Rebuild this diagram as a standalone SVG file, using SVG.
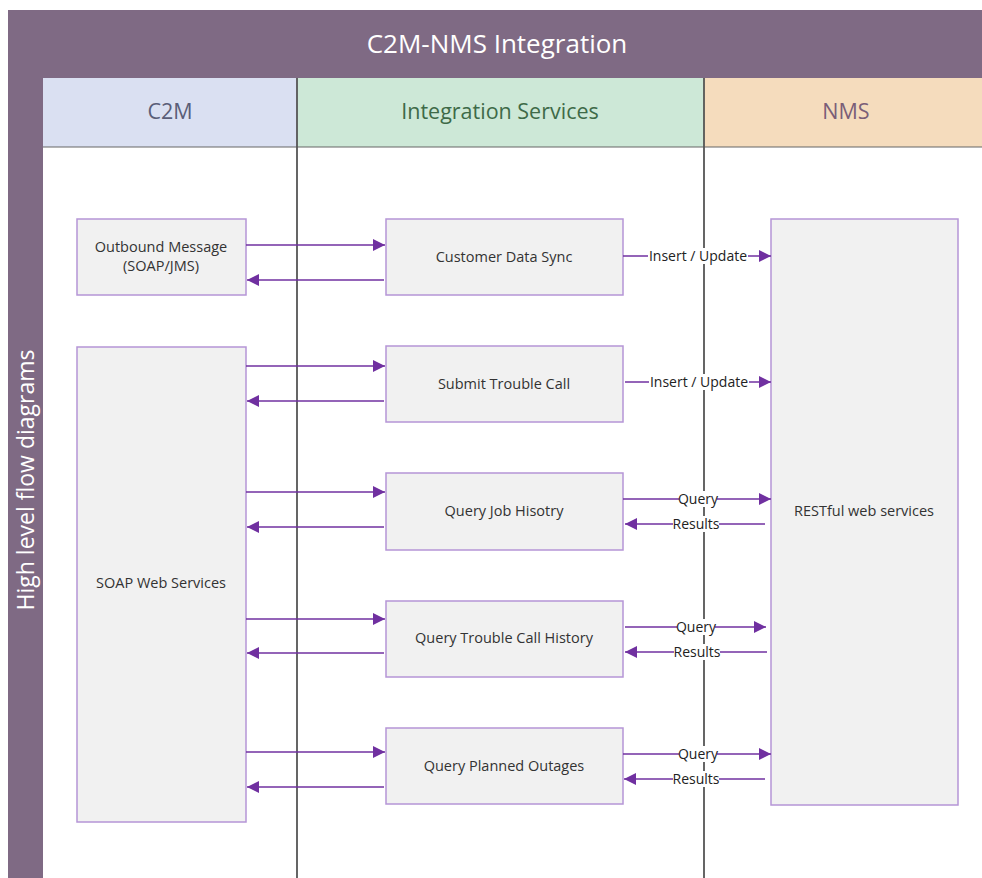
<svg xmlns="http://www.w3.org/2000/svg" width="982" height="878" viewBox="0 0 982 878">
<defs>
<marker id="ah" viewBox="0 0 10 10" refX="10" refY="5" markerWidth="12" markerHeight="12" markerUnits="userSpaceOnUse" orient="auto">
<path d="M0,0 L10,5 L0,10 z" fill="#7030a0"/>
</marker>
<style>
.node rect{fill:#f1f1f1;stroke:#b595d6;stroke-width:1.5}
.node text{font-family:"Open Sans","Noto Sans",sans-serif;font-size:14.5px;fill:#333;text-anchor:middle}
.conn line{stroke:#7030a0;stroke-width:1.3}
.lbl{font-family:"Open Sans","Noto Sans",sans-serif;font-size:14px;fill:#222;text-anchor:middle}
.lblbg{fill:#ffffff}
.hdr{font-family:"Open Sans","Noto Sans",sans-serif;font-size:21.5px;text-anchor:middle}
</style>
</defs>
<rect x="0" y="0" width="982" height="878" fill="#ffffff"/>
<g id="pool">
<rect x="8" y="10" width="974" height="68" fill="#7f6a84"/>
<text x="497" y="53" class="hdr" style="font-size:26px" fill="#ffffff">C2M-NMS Integration</text>
<rect x="8" y="78" width="35" height="800" fill="#7f6a84"/>
<text transform="translate(34,480) rotate(-90)" class="hdr" style="font-size:23px" fill="#ffffff">High level flow diagrams</text>
</g>
<g id="lanes">
<rect x="43" y="78" width="254" height="69" fill="#dae0f2"/>
<rect x="297" y="78" width="407" height="69" fill="#cde8d7"/>
<rect x="704" y="78" width="278" height="69" fill="#f5dcbd"/>
<text x="170" y="119" class="hdr" fill="#5a5e78">C2M</text>
<text x="500" y="119" class="hdr" fill="#3e6a48">Integration Services</text>
<text x="846" y="119" class="hdr" fill="#7a5e78">NMS</text>
<line x1="43" y1="147" x2="982" y2="147" stroke="#666" stroke-width="1.2"/>
<line x1="297" y1="78" x2="297" y2="878" stroke="#555" stroke-width="1.8"/>
<line x1="704" y1="78" x2="704" y2="878" stroke="#555" stroke-width="1.8"/>
</g>
<g id="n-outbound" class="node"><rect x="77" y="219" width="169" height="76"/><text x="161" y="252">Outbound Message</text><text x="161" y="271">(SOAP/JMS)</text></g>
<g id="n-soap" class="node"><rect x="77" y="347" width="169" height="475"/><text x="161" y="588">SOAP Web Services</text></g>
<g id="n-cds" class="node"><rect x="386" y="219" width="237" height="76"/><text x="504" y="262">Customer Data Sync</text></g>
<g id="n-stc" class="node"><rect x="386" y="346" width="237" height="76"/><text x="504" y="389">Submit Trouble Call</text></g>
<g id="n-qjh" class="node"><rect x="386" y="473" width="237" height="77"/><text x="504" y="516">Query Job Hisotry</text></g>
<g id="n-qtch" class="node"><rect x="386" y="601" width="237" height="76"/><text x="504" y="643">Query Trouble Call History</text></g>
<g id="n-qpo" class="node"><rect x="386" y="728" width="237" height="76"/><text x="504" y="771">Query Planned Outages</text></g>
<g id="n-rest" class="node"><rect x="771" y="219" width="187" height="586"/><text x="864" y="516">RESTful web services</text></g>
<g id="connectors" class="conn">
<line x1="246" y1="245" x2="385" y2="245" marker-end="url(#ah)"/>
<line x1="384" y1="280" x2="247" y2="280" marker-end="url(#ah)"/>
<line x1="246" y1="366" x2="385" y2="366" marker-end="url(#ah)"/>
<line x1="384" y1="401" x2="247" y2="401" marker-end="url(#ah)"/>
<line x1="246" y1="492" x2="385" y2="492" marker-end="url(#ah)"/>
<line x1="384" y1="527" x2="247" y2="527" marker-end="url(#ah)"/>
<line x1="246" y1="619" x2="385" y2="619" marker-end="url(#ah)"/>
<line x1="384" y1="653" x2="247" y2="653" marker-end="url(#ah)"/>
<line x1="246" y1="752" x2="385" y2="752" marker-end="url(#ah)"/>
<line x1="384" y1="787" x2="247" y2="787" marker-end="url(#ah)"/>
<line x1="623" y1="256" x2="771" y2="256" marker-end="url(#ah)"/>
<line x1="625" y1="382" x2="771" y2="382" marker-end="url(#ah)"/>
<line x1="623" y1="499" x2="771" y2="499" marker-end="url(#ah)"/>
<line x1="765" y1="524" x2="625" y2="524" marker-end="url(#ah)"/>
<line x1="625" y1="627" x2="766" y2="627" marker-end="url(#ah)"/>
<line x1="767" y1="652" x2="625" y2="652" marker-end="url(#ah)"/>
<line x1="623" y1="754" x2="771" y2="754" marker-end="url(#ah)"/>
<line x1="765" y1="779" x2="624" y2="779" marker-end="url(#ah)"/>
<g id="labels">
<rect class="lblbg" x="648" y="248" width="100" height="16"/><text class="lbl" x="698" y="261">Insert / Update</text>
<rect class="lblbg" x="649" y="374" width="100" height="16"/><text class="lbl" x="699" y="387">Insert / Update</text>
<rect class="lblbg" x="679" y="491" width="38" height="16"/><text class="lbl" x="698" y="504">Query</text>
<rect class="lblbg" x="673" y="516" width="46" height="16"/><text class="lbl" x="696" y="529">Results</text>
<rect class="lblbg" x="677" y="619" width="38" height="16"/><text class="lbl" x="696" y="632">Query</text>
<rect class="lblbg" x="674" y="644" width="46" height="16"/><text class="lbl" x="697" y="657">Results</text>
<rect class="lblbg" x="679" y="746" width="38" height="16"/><text class="lbl" x="698" y="759">Query</text>
<rect class="lblbg" x="673" y="771" width="46" height="16"/><text class="lbl" x="696" y="784">Results</text>
</g>
</g>
</svg>
